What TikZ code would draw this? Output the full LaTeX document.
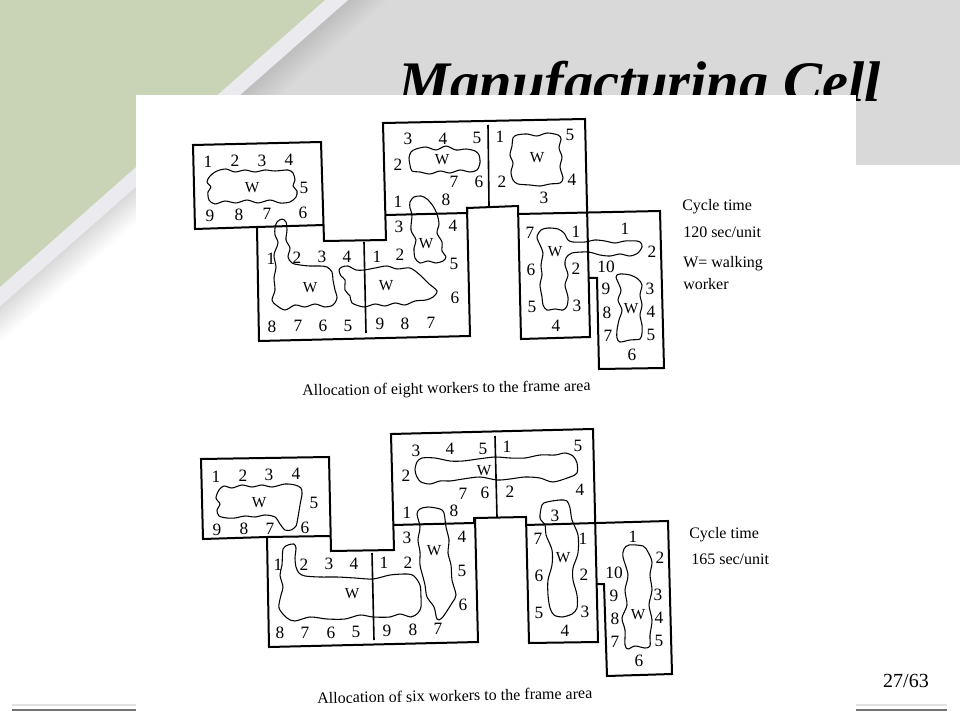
\documentclass[tikz,border=0pt]{standalone}
\usepackage{fontspec}
\setmainfont{Liberation Serif}
\definecolor{slidegreen}{HTML}{C9D3B6}
\definecolor{slidegray}{HTML}{D9D9D9}
\definecolor{slideband}{HTML}{EBEBEF}
\tikzset{
    num/.style={inner sep=0pt, font=\fontsize{13}{15}\selectfont},
    wlabel/.style={inner sep=0pt, font=\fontsize{11.5}{13}\selectfont},
    note/.style={inner sep=0pt, anchor=west, font=\fontsize{12}{14}\selectfont},
    wall/.style={line width=1.5pt, line join=miter},
    divider/.style={line width=1.2pt},
    worker/.style={line width=0.8pt, line join=round},
    footer/.style={line width=1pt}
}
\begin{document}
\begin{tikzpicture}[x=0.75pt, y=-0.75pt]
    \useasboundingbox (0,0) rectangle (960,720);

    % slide background
    \fill[slidegray] (348,0) -- (960,0) -- (960,165) -- (136,165) -- cycle;
    \begin{scope}
        \clip (136,0) rectangle (960,165);
        \foreach \d in {39,36,...,0} {
            \pgfmathsetmacro{\shadepc}{25-10*\d/39}
            \fill[black!\shadepc!white] (348+\d,0) -- (352+\d,0) -- (0,310+0.88*\d) -- (0,306+0.88*\d) -- cycle;
        }
    \end{scope}
    \begin{scope}
        \clip (0,95) rectangle (136,720);
        \foreach \d in {39,36,...,0} {
            \pgfmathsetmacro{\shadepc}{14-14*\d/39}
            \fill[black!\shadepc!white] (348+\d,0) -- (352+\d,0) -- (0,310+0.88*\d) -- (0,306+0.88*\d) -- cycle;
        }
    \end{scope}
    \fill[slideband] (325,0) -- (348,0) -- (0,306) -- (0,287) -- cycle;
    \fill[slidegreen] (0,0) -- (325,0) -- (0,287) -- cycle;

    \node[anchor=base west, inner sep=0pt, font=\fontsize{43}{50}\selectfont\bfseries\itshape] (title) at (398,102)
        {\scalebox{1.02}[1]{Manufacturing Cell}};
    \fill[white] (136,95) rectangle (856,720);

    \draw[footer, black!12] (12,705) -- (136,705);
    \draw[footer, black!55] (12,710) -- (136,710);
    \draw[footer, black!12] (856,705) -- (947,705);
    \draw[footer, black!55] (856,710) -- (947,710);
    \node[inner sep=0pt, font=\fontsize{15}{17}\selectfont] (page) at (906,681) {27/63};

    % eight workers
    \draw[wall] (257,227) -- (195,229) -- (193,145) -- (321,142) -- (324,241) -- (386,240) -- (383,123) -- (585,119)
        -- (590,337) -- (521,339) -- (518,206) -- (467,208) -- (470,336) -- (259,341) -- (257,227) -- (324,225);
    \draw[wall] (386,215) -- (467,213) -- (467,207);
    \draw[wall] (518,214) -- (660,211) -- (664,368) -- (599,369) -- (597,278) -- (588,278);
    \draw[divider] (488,125) -- (489,206);
    \draw[divider] (364,242) -- (366,333);

    \draw[worker] plot[smooth cycle] coordinates {(217,171) (226,169) (235,172) (245,170) (255,172) (265,170) (275,171) (288,170) (293,173) (295,180) (293,186) (297,191) (296,197) (290,202) (280,203) (270,200) (258,203) (247,200) (236,203) (225,201) (215,204) (209,200) (208,192) (211,187) (207,182) (210,176)};
    \draw[worker] plot[smooth cycle] coordinates {(411,152) (416,149) (426,147) (436,150) (446,146) (456,150) (466,149) (475,151) (479,155) (480,163) (477,170) (470,172) (460,170) (450,173) (440,171) (430,174) (420,172) (412,171) (410,165) (409,158)};
    \draw[worker] plot[smooth cycle] coordinates {(410,202) (414,197) (421,196) (427,199) (433,206) (437,214) (439,224) (437,233) (442,242) (442,251) (446,257) (443,261) (436,263) (428,261) (420,263) (415,258) (414,248) (416,240) (411,230) (412,215) (410,208)};
    \draw[worker] plot[smooth cycle] coordinates {(275,228) (277,222) (282,219) (286,222) (287,230) (286,240) (290,248) (288,257) (292,263) (300,265) (310,266) (320,266) (327,267) (332,272) (333,280) (335,290) (337,298) (333,305) (325,307) (315,304) (305,307) (295,305) (285,310) (276,305) (272,300) (275,290) (274,278) (276,267) (274,255) (278,243) (275,235)};
    \draw[worker] plot[smooth cycle] coordinates {(339,270) (342,267) (348,266) (356,270) (364,270) (375,268) (387,266) (397,269) (410,268) (420,275) (428,283) (437,291) (433,297) (426,300) (415,301) (405,305) (395,303) (385,306) (375,304) (364,307) (352,303) (350,296) (345,290) (345,280) (341,276)};
    \draw[worker] plot[smooth cycle] coordinates {(513,138) (517,135) (527,134) (537,136) (547,133) (558,135) (561,139) (559,148) (562,157) (560,167) (563,178) (560,183) (550,184) (540,186) (530,185) (518,184) (513,180) (511,172) (513,163) (510,155) (512,146)};
    \draw[worker] plot[smooth cycle] coordinates {(537,237) (541,230) (548,228) (558,229) (564,233) (568,240) (573,242) (585,242) (595,240) (605,241) (615,243) (625,241) (637,241) (641,243) (642,247) (638,253) (630,256) (620,254) (610,256) (600,255) (588,252) (572,253) (566,258) (565,265) (568,275) (565,285) (568,297) (567,306) (563,310) (555,309) (547,310) (543,305) (542,297) (540,285) (542,275) (541,265) (543,253) (540,245)};
    \draw[worker] plot[smooth cycle] coordinates {(616,277) (620,274) (630,275) (638,279) (642,285) (640,295) (642,305) (640,315) (642,325) (642,333) (640,339) (630,340) (620,342) (617,338) (617,330) (619,320) (622,310) (618,300) (621,290)};

    \foreach \px/\py/\lab [count=\i] in {
        208/162/1, 235/161/2, 262/161/3, 289/160/4, 304/188/5, 303/213/6, 267/214/7, 239/215/8, 210/216/9,
        408/139/3, 443/139/4, 477/138/5, 398/165/2, 454/182/7, 479/182/6, 398/202/1, 446/200/8,
        399/227/3, 453/226/4, 454/264/5, 455/298/6, 377/257/1, 400/255/2, 380/324/9, 405/324/8, 431/323/7,
        271/259/1, 297/258/2, 322/257/3, 347/257/4, 272/327/8, 298/326/7, 323/326/6, 348/326/5,
        500/137/1, 570/135/5, 502/182/2, 572/180/4, 544/198/3,
        530/233/7, 576/232/1, 531/270/6, 576/269/2, 532/307/5, 577/306/3, 556/326/4,
        625/229/1, 652/252/2, 606/267/10, 606/289/9, 650/289/3, 607/313/8, 651/312/4, 608/336/7, 651/335/5, 632/355/6
    } \node[num] (upper\i) at (\px,\py) {\lab};
    \foreach \px/\py [count=\i] in {252/188, 442/160, 426/244, 386/286, 310/288, 537/158, 555/252, 631/309}
        \node[wlabel] (upperw\i) at (\px,\py) {W};

    \node[note] (cycleup) at (682,207) {Cycle time};
    \node[note] (timeup) at (683,232) {120 sec/unit};
    \node[note] (wnote) at (683,264) {W= walking};
    \node[note] (wnoteb) at (683,284) {worker};
    \node[note, rotate=1] (capup) at (302,392) {Allocation of eight workers to the frame area};

    % six workers
    \draw[wall] (267,537) -- (203,539) -- (201,459) -- (329,457) -- (331,551) -- (394,550) -- (391,434) -- (593,429)
        -- (598,642) -- (529,643) -- (526,517) -- (475,518) -- (478,642) -- (269,647) -- (267,537) -- (330,536);
    \draw[wall] (393,525) -- (474,523) -- (474,517);
    \draw[wall] (526,525) -- (668,521) -- (672,674) -- (607,676) -- (604,584) -- (597,584);
    \draw[divider] (495,436) -- (497,517);
    \draw[divider] (372,553) -- (374,640);

    \draw[worker] plot[smooth cycle] coordinates {(216,498) (219,490) (224,486) (232,488) (242,485) (252,487) (262,485) (272,487) (285,484) (295,485) (301,488) (302,494) (300,505) (298,517) (296,526) (291,530) (285,530) (280,524) (275,517) (265,515) (255,517) (245,516) (235,518) (227,518) (219,516) (217,510) (220,504)};
    \draw[worker] plot[smooth cycle] coordinates {(415,470) (417,462) (422,458) (435,458) (450,461) (463,461) (478,459) (495,457) (510,458) (525,458) (540,455) (555,455) (565,453) (573,456) (577,463) (577,473) (570,477) (553,482) (540,478) (525,477) (510,479) (497,480) (480,477) (463,479) (450,481) (440,481) (430,484) (421,482) (417,477)};
    \draw[worker] plot[smooth cycle] coordinates {(417,514) (420,509) (428,507) (440,509) (444,513) (446,527) (449,540) (448,553) (451,565) (452,580) (456,595) (452,603) (442,618) (437,619) (434,607) (427,597) (425,585) (423,577) (420,565) (420,552) (418,540) (420,527)};
    \draw[worker] plot[smooth cycle] coordinates {(283,549) (288,545) (294,544) (296,548) (295,558) (296,567) (299,573) (305,576) (320,577) (337,577) (355,578) (373,579) (390,575) (407,574) (414,576) (420,585) (421,597) (421,607) (418,613) (411,617) (400,614) (390,617) (373,617) (360,615) (345,619) (327,619) (310,617) (295,621) (287,618) (279,608) (281,595) (283,587) (280,575) (282,565)};
    \draw[worker] plot[smooth cycle] coordinates {(540,518) (542,505) (547,502) (560,500) (567,501) (570,508) (572,520) (578,535) (578,553) (573,568) (573,580) (577,595) (577,608) (572,614) (562,617) (554,615) (550,608) (548,595) (548,580) (552,565) (552,550) (546,535) (545,525)};
    \draw[worker] plot[smooth cycle] coordinates {(623,557) (624,549) (629,545) (643,546) (648,552) (652,562) (650,575) (652,590) (649,605) (652,620) (650,635) (650,646) (645,648) (635,646) (628,649) (625,645) (625,630) (622,618) (627,605) (625,590) (628,575)};

    \foreach \px/\py/\lab [count=\i] in {
        216/477/1, 243/476/2, 269/475/3, 296/474/4, 314/503/5, 305/528/6, 270/529/7, 244/529/8, 217/530/9,
        416/451/3, 450/449/4, 483/449/5, 406/476/2, 463/494/7, 485/493/6, 407/513/1, 454/511/8,
        407/538/3, 462/537/4, 462/571/5, 463/605/6, 384/563/1, 408/563/2, 387/631/9, 413/630/8, 438/629/7,
        278/565/1, 304/565/2, 329/564/3, 354/564/4, 280/633/8, 305/633/7, 331/633/6, 356/632/5,
        507/447/1, 578/446/5, 510/492/2, 580/490/4, 555/516/3,
        538/539/7, 583/539/1, 539/576/6, 584/575/2, 539/613/5, 585/612/3, 565/631/4,
        633/537/1, 660/558/2, 614/573/10, 614/596/9, 658/595/3, 615/619/8, 659/618/4, 615/642/7, 659/641/5, 639/661/6
    } \node[num] (lower\i) at (\px,\py) {\lab};
    \foreach \px/\py [count=\i] in {259/503, 484/471, 434/551, 352/594, 563/558, 638/615}
        \node[wlabel] (lowerw\i) at (\px,\py) {W};

    \node[note] (cyclelow) at (689,535) {Cycle time};
    \node[note] (timelow) at (691,559) {165 sec/unit};
    \node[note, rotate=1] (caplow) at (317,698) {Allocation of six workers to the frame area};
\end{tikzpicture}
\end{document}
